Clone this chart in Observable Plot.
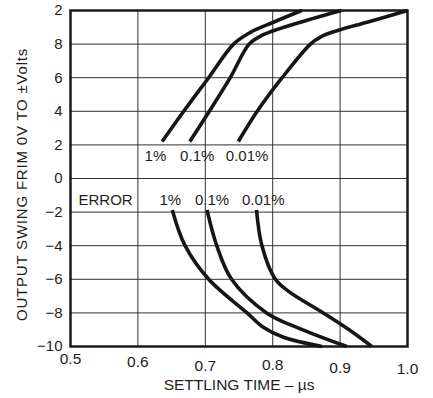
<!DOCTYPE html>
<html>
<head>
<meta charset="utf-8">
<script src="https://cdn.jsdelivr.net/npm/d3@7"></script>
<script src="https://cdn.jsdelivr.net/npm/@observablehq/plot@0.6"></script>
<style>
  html, body { margin: 0; padding: 0; background: #fff; }
  #chart svg { display: block; }
</style>
</head>
<body>
<div id="chart"></div>
<script>
// ---- Data ----
const errorLevels = ["1%", "0.1%", "0.01%"];

// Positive swing (0V to +V) settling curves: time (µs) and output (V)
const up1Time = [0.636, 0.668, 0.705, 0.742, 0.767, 0.801, 0.843];
const up1Volt = [2.2, 4.0, 6.0, 8.0, 8.7, 9.3, 10];
const up2Time = [0.677, 0.706, 0.737, 0.765, 0.783, 0.841, 0.902];
const up2Volt = [2.2, 4.0, 6.0, 8.0, 8.5, 9.3, 10];
const up3Time = [0.749, 0.777, 0.814, 0.856, 0.872, 0.9, 0.94, 1.0];
const up3Volt = [2.2, 4.0, 6.0, 8.0, 8.45, 8.85, 9.3, 10];

// Negative swing (0V to -V) settling curves
const lo1Time = [0.651, 0.670, 0.705, 0.762, 0.786, 0.816, 0.873];
const lo1Volt = [-1.87, -4.0, -6.0, -8.0, -8.85, -9.45, -10];
const lo2Time = [0.7025, 0.717, 0.739, 0.791, 0.841, 0.910];
const lo2Volt = [-1.87, -4.0, -6.0, -8.0, -8.95, -10];
const lo3Time = [0.776, 0.784, 0.804, 0.823, 0.875, 0.915, 0.947];
const lo3Volt = [-1.87, -4.0, -6.0, -6.7, -8.0, -9.05, -10];

// Curve label positions
const upperLabelTime = [0.626, 0.688, 0.762];
const upperLabelVolt = 1.3;
const lowerLabelTime = [0.648, 0.710, 0.786];
const lowerLabelVolt = -1.3;
const errorWord = "ERROR";
const errorWordTime = 0.552;

// Axes
const xTicks = [0.5, 0.6, 0.7, 0.8, 0.9, 1.0];
const xTickLabels = ["0.5", "0.6", "0.7", "0.8", "0.9", "1.0"];
const yTicks = [-10, -8, -6, -4, -2, 0, 2, 4, 6, 8, 10];
const yTickLabels = ["\u221210", "\u22128", "\u22126", "\u22124", "\u22122", "0", "2", "4", "6", "8", "2"];
const xTitle = "SETTLING TIME \u2013 \u00b5s";
const yTitle = "OUTPUT SWING FRIM 0V TO \u00b1Volts";

// ---- Build tables ----
const series = [
  ["up 1%", up1Time, up1Volt], ["up 0.1%", up2Time, up2Volt], ["up 0.01%", up3Time, up3Volt],
  ["lo 1%", lo1Time, lo1Volt], ["lo 0.1%", lo2Time, lo2Volt], ["lo 0.01%", lo3Time, lo3Volt]
];
const curveData = series.flatMap(([name, ts, vs]) => ts.map((t, i) => ({name, t, v: vs[i]})));
const labelData = [
  ...upperLabelTime.map((t, i) => ({t, v: upperLabelVolt, text: errorLevels[i]})),
  ...lowerLabelTime.map((t, i) => ({t, v: lowerLabelVolt, text: errorLevels[i]}))
];
// slight vertical stagger of the printed tick labels (px below the axis)
const xTickOffsets = [13, 15.5, 20, 19, 22, 23];

const font = "Liberation Sans, Arial, Helvetica, sans-serif";
const ink = "#1e1e1e";

const chart = Plot.plot({
  width: 433,
  height: 398,
  marginLeft: 70,
  marginRight: 26,
  marginTop: 10,
  marginBottom: 52,
  style: {fontFamily: font, background: "#fff", color: ink},
  x: {domain: [0.5, 1.0], axis: null},
  y: {domain: [-10, 10], axis: null},
  marks: [
    Plot.ruleX(xTicks, {stroke: "#333", strokeWidth: 1}),
    Plot.ruleY(yTicks, {stroke: "#333", strokeWidth: 1}),
    Plot.frame({stroke: "#1a1a1a", strokeWidth: 2.5}),
    Plot.line(curveData, {x: "t", y: "v", z: "name", curve: "catmull-rom",
      stroke: "#161616", strokeWidth: 3.6, strokeLinecap: "butt"}),
    Plot.text(labelData, {x: "t", y: "v", text: "text", fontSize: 15, fill: ink}),
    Plot.text([errorWord], {x: errorWordTime, y: lowerLabelVolt, text: d => d, fontSize: 15, fill: ink}),
    Plot.text(yTicks, {y: d => d, frameAnchor: "left", dx: -8, textAnchor: "end", lineAnchor: "middle",
      text: (d, i) => yTickLabels[i], fontSize: 15, fill: ink}),
    ...xTicks.map((xt, i) => Plot.text([xt], {x: d => d, frameAnchor: "bottom", dy: xTickOffsets[i],
      textAnchor: "middle", lineAnchor: "middle",
      text: () => xTickLabels[i], fontSize: 15.5, fill: ink})),
    Plot.text([xTitle], {frameAnchor: "bottom", dy: 39, textAnchor: "middle", lineAnchor: "middle",
      text: d => d, fontSize: 15.5, fill: ink}),
    Plot.text([yTitle], {frameAnchor: "left", dx: -48, dy: 6, rotate: -90, textAnchor: "middle",
      lineAnchor: "middle", text: d => d, fontSize: 15, fill: ink})
  ]
});
d3.select(chart).selectAll("text")
  .filter(function() { return this.textContent === yTitle; })
  .attr("letter-spacing", "0.8");
document.getElementById("chart").appendChild(chart);
</script>
</body>
</html>
